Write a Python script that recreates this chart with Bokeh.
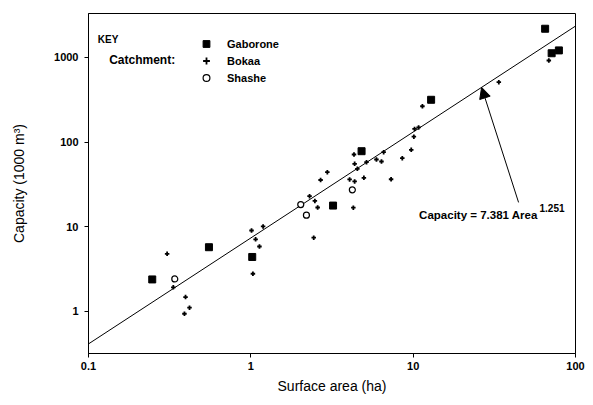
import numpy as np
from bokeh.plotting import figure
from bokeh.models import (FixedTicker, Label, Arrow, NormalHead, Legend,
                          LegendItem, ColumnDataSource)
from bokeh.embed import file_html
from bokeh.resources import INLINE

# ---------------- data ----------------
gab_area = [65.0, 71.3, 79.0, 12.9, 4.81, 3.21, 1.02, 0.552, 0.247]
gab_cap = [2180, 1120, 1210, 316, 78.1, 17.8, 4.40, 5.74, 2.39]

bok_area = [68.5, 33.7, 11.4, 10.2, 10.8, 10.1, 9.73, 8.57, 7.31, 6.58,
            5.94, 6.38, 4.32, 4.36, 5.16, 4.53, 4.06, 4.36, 4.97, 4.28,
            2.96, 2.69, 2.30, 2.48, 2.58, 2.44, 1.01, 1.19, 1.07, 1.13,
            1.03, 0.305, 0.333, 0.396, 0.419, 0.390]
bok_cap = [919, 510, 265, 143, 149, 116, 81.1, 64.6, 36.4, 76.0,
           62.3, 59.0, 71.4, 55.4, 57.9, 48.4, 36.2, 34.3, 37.9, 16.8,
           44.1, 35.7, 23.0, 20.2, 16.9, 7.43, 9.04, 10.1, 7.12, 5.85,
           2.79, 4.80, 1.93, 1.48, 1.11, 0.94]

sha_area = [4.22, 2.03, 2.20, 0.340]
sha_cap = [27.3, 18.3, 13.7, 2.42]

# regression: Capacity = 7.381 * Area ** 1.251
coef_a = 7.381
coef_b = 1.251
fit_area = [0.1, 100.0]
arrow_area = 26.4          # where the arrow meets the line
arrow_tail = (44.6, 19.4)  # tail of the arrow (area, capacity)

x_ticks = [0.1, 1, 10, 100]
y_ticks = [1, 10, 100, 1000]

FONT = "Liberation Sans"

p = figure(width=593, height=405, x_axis_type="log", y_axis_type="log",
           x_range=(0.1, 100), y_range=(0.319, 3300),
           output_backend="svg", toolbar_location=None,
           min_border_left=88, min_border_right=18,
           min_border_top=13, min_border_bottom=52)

p.outline_line_color = "black"
p.outline_line_width = 1
p.xgrid.visible = False
p.ygrid.visible = False
p.background_fill_color = "white"
p.border_fill_color = "white"

for ax, ticks in ((p.xaxis[0], x_ticks), (p.yaxis[0], y_ticks)):
    ax.ticker = FixedTicker(ticks=ticks, minor_ticks=[])
    ax.major_tick_out = 4
    ax.major_tick_in = 0
    ax.minor_tick_out = 0
    ax.minor_tick_in = 0
    ax.axis_line_color = "black"
    ax.major_tick_line_color = "black"
    ax.major_label_text_font = FONT
    ax.major_label_text_font_size = "11px"
    ax.major_label_text_font_style = "bold"
    ax.major_label_text_color = "black"
    ax.axis_label_text_font = FONT
    ax.axis_label_text_font_size = "14px"
    ax.axis_label_text_font_style = "normal"
    ax.axis_label_text_color = "black"

p.xaxis.major_label_overrides = {0.1: "0.1", 1: "1", 10: "10", 100: "100"}
p.yaxis.major_label_overrides = {1: "1", 10: "10", 100: "100", 1000: "1000"}
p.xaxis.axis_label = "Surface area (ha)"
p.yaxis.axis_label = "Capacity (1000 m\u00b3)"
p.xaxis.major_label_standoff = 4
p.xaxis.axis_label_standoff = 5
p.yaxis.major_label_standoff = 6
p.yaxis.axis_label_standoff = 24

# regression line
fit_cap = [coef_a * a ** coef_b for a in fit_area]
p.line(fit_area, fit_cap, line_color="black", line_width=1)

# data points
r_g = p.scatter(gab_area, gab_cap, marker="square", size=7,
                fill_color="black", line_color="black")
r_b = p.scatter(bok_area, bok_cap, marker="cross", size=4.5,
                line_color="black", line_width=1.8)
r_s = p.scatter(sha_area, sha_cap, marker="circle", size=6,
                fill_color="white", line_color="black", line_width=1.2)

# key
legend = Legend(items=[LegendItem(label="Gaborone", renderers=[r_g]),
                       LegendItem(label="Bokaa", renderers=[r_b]),
                       LegendItem(label="Shashe", renderers=[r_s])],
                location=(108, 267), orientation="vertical",
                glyph_width=20, glyph_height=17, label_height=17,
                label_standoff=11, spacing=0, padding=0, margin=0,
                border_line_color=None, background_fill_alpha=0,
                label_text_font=FONT, label_text_font_size="11px",
                label_text_font_style="bold", label_text_color="black")
p.add_layout(legend, "center")

# KEY / Catchment texts (placed in data space)
p.add_layout(Label(x=0.114, y=1620, text="KEY", text_font=FONT,
                   text_font_size="10px", text_font_style="bold",
                   text_color="black",
                   text_baseline="middle", text_align="left"))
p.add_layout(Label(x=0.134, y=940, text="Catchment:", text_font=FONT,
                   text_font_size="12px", text_font_style="bold",
                   text_color="black",
                   text_baseline="middle", text_align="left"))

# equation label with superscript
p.add_layout(Label(x=58.5, y=13.6, text="Capacity = 7.381 Area",
                   text_font=FONT, text_font_size="11.5px",
                   text_font_style="bold", text_baseline="middle",
                   text_color="black", text_align="right"))
p.add_layout(Label(x=60.0, y=16.8, text="1.251",
                   text_font=FONT, text_font_size="10px",
                   text_font_style="bold", text_baseline="middle",
                   text_color="black", text_align="left"))

# arrow
p.add_layout(Arrow(end=NormalHead(size=11, fill_color="black",
                                  line_color="black"),
                   x_start=arrow_tail[0], y_start=arrow_tail[1],
                   x_end=arrow_area, y_end=coef_a * arrow_area ** coef_b,
                   line_color="black", line_width=1))

open("out.html", "w").write(file_html(p, INLINE))
